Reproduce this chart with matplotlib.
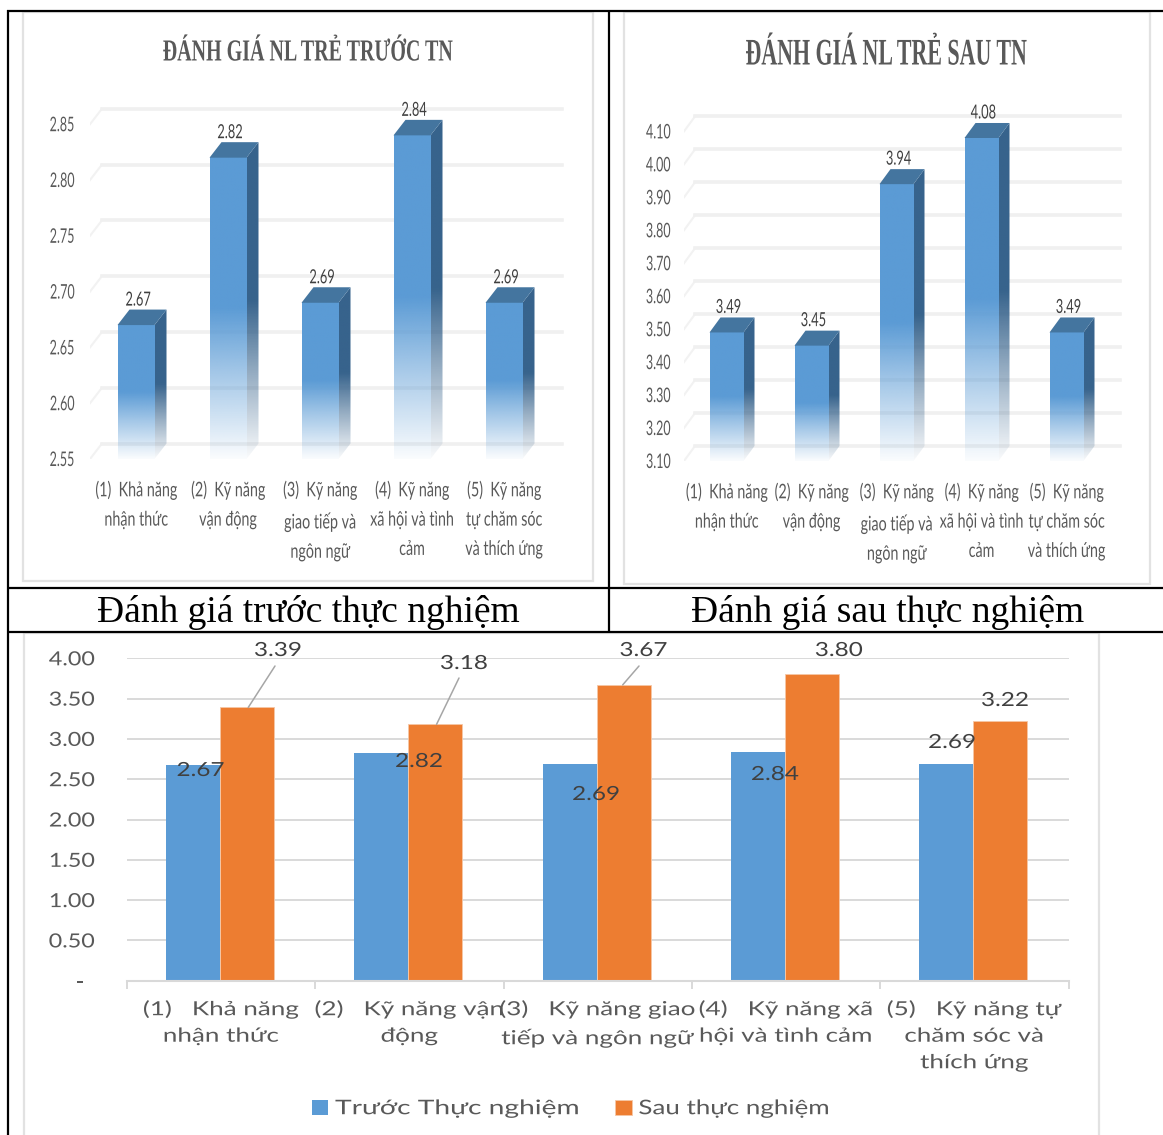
import numpy as np
import matplotlib
matplotlib.use("Agg")
import matplotlib.pyplot as plt
from matplotlib.patches import Polygon, Rectangle
from matplotlib.patheffects import AbstractPathEffect
from matplotlib.transforms import Affine2D

W, H = 1163, 1135
SANS = ["Lato", "Noto Sans", "DejaVu Sans"]
SERIF = ["Liberation Serif", "DejaVu Serif"]
BLUE = "#5b9bd5"
ORANGE = "#ed7d31"
GREY = "#595959"
LIGHT = "#d9d9d9"

categories_3d = ["(1)  Khả năng\nnhận thức", "(2)  Kỹ năng\nvận động",
                 "(3)  Kỹ năng\ngiao tiếp và\nngôn ngữ",
                 "(4)  Kỹ năng\nxã hội và tình\ncảm",
                 "(5)  Kỹ năng\ntự chăm sóc\nvà thích ứng"]
categories = ["(1)   Khả năng\nnhận thức", "(2)   Kỹ năng vận\nđộng",
              "(3)   Kỹ năng giao\ntiếp và ngôn ngữ",
              "(4)   Kỹ năng xã\nhội và tình cảm",
              "(5)   Kỹ năng tự\nchăm sóc và\nthích ứng"]

truoc_3d = [2.67, 2.82, 2.69, 2.84, 2.69]
sau_3d = [3.49, 3.45, 3.94, 4.08, 3.49]
truoc_ticks = [2.55, 2.60, 2.65, 2.70, 2.75, 2.80, 2.85]
sau_ticks = [3.10, 3.20, 3.30, 3.40, 3.50, 3.60, 3.70, 3.80, 3.90, 4.00, 4.10]

truoc = [2.67, 2.82, 2.69, 2.84, 2.69]
sau = [3.39, 3.18, 3.67, 3.80, 3.22]
value_ticks = [0, 0.5, 1, 1.5, 2, 2.5, 3, 3.5, 4]


class Stretch(AbstractPathEffect):
    # widen or narrow a text horizontally, fonts here have no condensed cut
    def __init__(self, sx, anchor="center", shift=0):
        super().__init__()
        self.sx, self.anchor, self.shift = sx, anchor, shift

    def draw_path(self, renderer, gc, tpath, affine, rgbFace=None):
        box = tpath.get_extents(affine)
        cx = {"left": box.x0, "right": box.x1, "center": (box.x0 + box.x1) / 2}[self.anchor]
        tr = affine + Affine2D().translate(-cx, 0).scale(self.sx, 1).translate(cx + self.shift, 0)
        renderer.draw_path(gc, tpath, tr, rgbFace)


def px_axes(left, top, right, bottom):
    return fig.add_axes([left / W, 1 - bottom / H, (right - left) / W, (bottom - top) / H])


def fade(color):
    # solid down to half of the bar, then melting to nothing at the floor
    rgba = np.ones((256, 1, 4))
    rgba[:, :, :3] = matplotlib.colors.to_rgb(color)
    t = np.linspace(0, 1, 256)
    rgba[:, 0, 3] = np.interp(t, [0, 0.5, 0.72, 1], [1, 1, 0.55, 0.03])
    return rgba


def chart_3d(box, title, title_pos, title_pt, title_sx, values, ticks, per_px, cat_px,
             bar_px, side, tick_pad, line_sp):
    left, top, right, bottom = box
    ax = px_axes(left, top, right, bottom)
    y0 = ticks[0]
    ax.set_xlim(-0.5, -0.5 + (right - left) / cat_px)
    ax.set_ylim(y0, y0 + (bottom - top) / per_px)
    ax.patch.set_visible(False)
    for s in ax.spines.values():
        s.set_visible(False)

    dx, dy = side[0] / cat_px, side[1] / per_px
    for t in ticks:
        ax.plot([-0.5, -0.5 + dx], [t, t + dy], color="#f2f2f2", lw=1.5, zorder=1)
        ax.plot([-0.5 + dx, 4.5 + dx], [t + dy, t + dy], color="#f0f0f0", lw=2.6, zorder=1)

    w = bar_px / cat_px
    for i, v in enumerate(values):
        x0, x1 = i - w / 2, i + w / 2
        ax.imshow(fade(BLUE), extent=(x0, x1, y0, v), aspect="auto", zorder=3,
                  interpolation="bilinear")
        im = ax.imshow(fade("#37638c"), extent=(x1, x1 + dx, y0, v + dy), aspect="auto",
                       zorder=3, interpolation="bilinear")
        clip = Polygon([(x1, y0), (x1 + dx, y0 + dy), (x1 + dx, v + dy), (x1, v)],
                       transform=ax.transData)
        im.set_clip_path(clip)
        ax.add_patch(Polygon([(x0, v), (x1, v), (x1 + dx, v + dy), (x0 + dx, v + dy)],
                             fc="#44759f", ec="none", zorder=4))
        ax.annotate(f"{v:.2f}", xy=(i, v), xytext=(1.5, 25 * 0.72), textcoords="offset points",
                    ha="center", va="center", fontsize=14, color="#404040", family=SANS,
                    path_effects=[Stretch(0.66)], zorder=5)

    ax.set_xlim(-0.5, -0.5 + (right - left) / cat_px)
    ax.set_ylim(y0, y0 + (bottom - top) / per_px)
    ax.set_yticks(ticks, [f"{t:.2f}" for t in ticks], family=SANS, fontsize=14.5, color=GREY)
    ax.tick_params(axis="y", length=0, pad=tick_pad * 0.72)
    ax.set_xticks(range(5), categories_3d, family=SANS, fontsize=14.5, color=GREY,
                  linespacing=line_sp)
    ax.tick_params(axis="x", length=0, pad=16)
    for lab in ax.get_yticklabels():
        lab.set_path_effects([Stretch(0.62, "right")])
    for lab in ax.get_xticklabels():
        lab.set_path_effects([Stretch(0.71)])

    page.text(title_pos[0], title_pos[1], title, ha="center", va="center", family=SERIF,
              weight="bold", fontsize=title_pt, color=GREY, path_effects=[Stretch(title_sx)])


fig = plt.figure(figsize=(W / 100, H / 100), dpi=100)
page = fig.add_axes([0, 0, 1, 1], zorder=-1)
page.set_xlim(0, W)
page.set_ylim(H, 0)
page.axis("off")

# chart frames
for x0, y0, x1, y1 in [(23, 12, 593, 581), (624, 12, 1150, 584), (24, 633, 1099, 1140)]:
    page.add_patch(Rectangle((x0, y0), x1 - x0, y1 - y0, fc="white", ec="#e2e2e2", lw=1.6))

# table rules around the panels
for xs, ys in [((7, W), (10.5, 10.5)), ((8, 8), (10, H)), ((609, 609), (10, 632)),
               ((8, W), (587.5, 587.5)), ((8, W), (632, 632))]:
    page.plot(xs, ys, color="black", lw=1.6, solid_capstyle="butt")

page.text(308.5, 612, "Đánh giá trước thực nghiệm", ha="center", va="center", family=SERIF,
          fontsize=27, color="black")
page.text(887.5, 612, "Đánh giá sau thực nghiệm", ha="center", va="center", family=SERIF,
          fontsize=27, color="black")

chart_3d((90, 90, 570, 459), "ĐÁNH GIÁ NL TRẺ TRƯỚC TN", (307.5, 53), 22, 0.655,
         truoc_3d, truoc_ticks, 1116.0, 92, 37, (12, 15.5), 15, 1.88)
chart_3d((684, 95, 1130, 461), "ĐÁNH GIÁ NL TRẺ SAU TN", (886, 55), 27, 0.585,
         sau_3d, sau_ticks, 329.6, 85, 34, (11, 15), 13, 1.88)

# flat comparison chart
ax = px_axes(127, 658.3, 1068.5, 980.7)
ax.set_xlim(-0.5, 4.5)
ax.set_ylim(0, 4)
ax.patch.set_visible(False)
for name, s in ax.spines.items():
    s.set_visible(name == "bottom")
    s.set_color(LIGHT)
    s.set_linewidth(1.5)
ax.yaxis.grid(True, color=LIGHT, lw=1.4)
ax.set_axisbelow(True)

x = np.arange(5) - 1 / 188.3
bw = 54 / 188.3
ax.bar(x - bw / 2, truoc, bw, color=BLUE, edgecolor="none", label="Trước Thực nghiệm")
ax.bar(x + bw / 2, sau, bw, color=ORANGE, edgecolor="#f6c7a6", lw=0.6, label="Sau thực nghiệm")

ax.set_yticks(value_ticks, [f"{t:.2f}" if t else "-" for t in value_ticks], family=SANS,
              fontsize=14, color=GREY)
ax.tick_params(axis="y", length=0, pad=32 * 0.72)
for lab, t in zip(ax.get_yticklabels(), value_ticks):
    lab.set_path_effects([Stretch(1.2, "right", 0 if t else -11)])
ax.set_xticks(np.arange(5), categories, family=SANS, fontsize=14, color=GREY, linespacing=1.68)
ax.set_xticks(np.arange(-0.5, 5), minor=True)
ax.tick_params(axis="x", which="major", length=0, pad=14)
ax.tick_params(axis="x", which="minor", length=6, width=1.4, color=LIGHT)
for lab in ax.get_xticklabels():
    lab.set_path_effects([Stretch(1.34)])

# value labels sit where they were dragged, three of them keep a leader line
truoc_label_px = [(200.5, 770.5), (419, 761.5), (596, 794.5), (775, 774.5), (952, 742.5)]
sau_label_px = [(278, 650.5), (464, 663.5), (643.5, 650.5), (839, 650.5), (1005, 700.5)]
leader_start_px = {0: (275, 666), 1: (459, 678), 2: (639, 666)}
leader_end_frac = {0: 0.52, 1: 0.52, 2: 0.48}
for i, v in enumerate(truoc):
    ax.text(truoc_label_px[i][0] / W, 1 - truoc_label_px[i][1] / H, f"{v:.2f}",
            transform=fig.transFigure, ha="center", va="center", fontsize=14,
            color="#404040", family=SANS, path_effects=[Stretch(1.25)], zorder=6)
for i, v in enumerate(sau):
    ax.text(sau_label_px[i][0] / W, 1 - sau_label_px[i][1] / H, f"{v:.2f}",
            transform=fig.transFigure, ha="center", va="center", fontsize=14,
            color="#404040", family=SANS, path_effects=[Stretch(1.25)], zorder=6)
    if i in leader_start_px:
        sx, sy = leader_start_px[i]
        ax.annotate("", xy=(x[i] + leader_end_frac[i] * bw, v),
                    xytext=(sx / W, 1 - sy / H), textcoords="figure fraction",
                    arrowprops=dict(arrowstyle="-", color="#a6a6a6", lw=1.1,
                                    shrinkA=0, shrinkB=0), annotation_clip=False)

leg = ax.legend(loc="center left", bbox_to_anchor=(312 / W, 1 - 1108.5 / H),
                bbox_transform=fig.transFigure, ncol=2, frameon=False, handlelength=0.8,
                handleheight=0.75, handletextpad=0.35, columnspacing=5.25, borderpad=0,
                borderaxespad=0, prop={"family": SANS, "size": 14.5})
for t, sx in zip(leg.get_texts(), [1.40, 1.29]):
    t.set_color(GREY)
    t.set_path_effects([Stretch(sx, "left")])

fig.savefig("out.png", dpi=100)
